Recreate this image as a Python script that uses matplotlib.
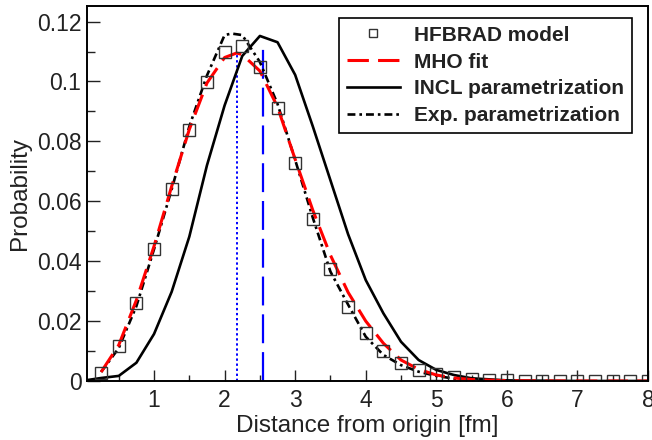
import numpy as np
import matplotlib
matplotlib.use('Agg')
import matplotlib.pyplot as plt
from matplotlib.ticker import MultipleLocator

plt.rcParams['font.family'] = ['Liberation Sans', 'DejaVu Sans']

# --- HFBRAD model points ---
x_hf = [0.25, 0.5, 0.75, 1.0, 1.25, 1.5, 1.75, 2.0, 2.25, 2.5, 2.75, 3.0,
        3.25, 3.5, 3.75, 4.0, 4.25, 4.5, 4.75, 5.0, 5.25, 5.5, 5.75, 6.0,
        6.25, 6.5, 6.75, 7.0, 7.25, 7.5, 7.75, 8.0]
p_hf = [0.0028, 0.0118, 0.0261, 0.0441, 0.0641, 0.0838, 0.0999, 0.1099,
        0.1117, 0.1050, 0.0911, 0.0727, 0.0540, 0.0374, 0.0247, 0.0159,
        0.0100, 0.0059, 0.0037, 0.0022, 0.0014, 0.0008, 0.0004, 0.0002,
        0.0001, 0.0001, 0.0, 0.0, 0.0, 0.0, 0.0, 0.0]

# --- MHO fit ---
x_mho = [0.25, 0.5, 0.75, 1.0, 1.25, 1.5, 1.75, 2.0, 2.17, 2.25, 2.5, 2.75,
         3.0, 3.25, 3.5, 3.75, 4.0, 4.25, 4.5, 4.75, 5.0, 5.25, 5.5, 6.0,
         6.5, 7.0, 8.0]
p_mho = [0.003, 0.012, 0.027, 0.045, 0.065, 0.084, 0.0995, 0.108, 0.1095,
         0.109, 0.1035, 0.0915, 0.074, 0.057, 0.042, 0.0296, 0.0200, 0.0126,
         0.0070, 0.0039, 0.0020, 0.0010, 0.0005, 0.0001, 0.00003, 0.0, 0.0]

# --- INCL parametrization ---
x_incl = [0.05, 0.25, 0.5, 0.75, 1.0, 1.25, 1.5, 1.75, 2.0, 2.25, 2.5, 2.75,
          3.0, 3.25, 3.5, 3.75, 4.0, 4.25, 4.5, 4.75, 5.0, 5.25, 5.5, 6.0,
          6.5, 7.0, 8.0]
p_incl = [0.0003, 0.0010, 0.0017, 0.0061, 0.0157, 0.0298, 0.0482, 0.072,
          0.092, 0.1085, 0.1152, 0.1131, 0.1022, 0.085, 0.067, 0.049, 0.0337,
          0.0226, 0.0131, 0.0070, 0.0037, 0.0020, 0.0009, 0.0002, 0.0001,
          0.0, 0.0]

# --- Exp. parametrization ---
x_exp = [0.25, 0.5, 0.75, 1.0, 1.25, 1.5, 1.75, 2.0, 2.1, 2.25, 2.5, 2.75,
         3.0, 3.25, 3.5, 3.75, 4.0, 4.25, 4.5, 4.75, 5.0, 5.25, 5.5, 6.0]
p_exp = [0.003, 0.011, 0.025, 0.044, 0.064, 0.085, 0.102, 0.1155, 0.116,
         0.1155, 0.1065, 0.0925, 0.0738, 0.0545, 0.0365, 0.0255, 0.0148,
         0.0087, 0.0053, 0.0031, 0.0017, 0.0008, 0.0004, 0.0001]

# --- vertical markers (rms radii) ---
x_rms_mho, top_rms_mho = 2.17, 0.1095
x_rms_hf, top_rms_hf = 2.55, 0.112

fig = plt.figure(figsize=(6.52, 4.40), dpi=100)
ax = fig.add_axes([87 / 652, 1 - 381 / 440, (648 - 87) / 652, (381 - 6) / 440])

ax.plot([x_rms_mho, x_rms_mho], [0, top_rms_mho], color='blue', lw=1.4,
        linestyle=(0, (1.2, 1.4)))
ax.plot([x_rms_hf, x_rms_hf], [0, top_rms_hf], color='blue', lw=1.6,
        linestyle=(0, (13, 4)))

ax.plot(x_incl, p_incl, color='black', lw=1.9, label='INCL parametrization')
ax.plot(x_exp, p_exp, color='black', lw=1.9,
        linestyle=(0, (3, 1.5, 1, 1.5)), label='Exp. parametrization')
ax.plot(x_mho, p_mho, color='red', lw=2.2, linestyle=(0, (7, 3)),
        label='MHO fit')
ax.plot(x_hf, p_hf, linestyle='none', marker='s', markersize=8,
        markerfacecolor='none', markeredgecolor='#333333',
        markeredgewidth=1.0, label='HFBRAD model')

ax.set_xlim(0.05, 8.0)
ax.set_ylim(0, 0.1252)

ax.xaxis.set_major_locator(MultipleLocator(1))
ax.xaxis.set_minor_locator(MultipleLocator(0.5))
ax.yaxis.set_minor_locator(MultipleLocator(0.01))
ax.set_yticks([0, 0.02, 0.04, 0.06, 0.08, 0.1, 0.12])
ax.set_yticklabels(['0', '0.02', '0.04', '0.06', '0.08', '0.1', '0.12'])

ax.tick_params(axis='both', which='both', direction='in', top=False,
               right=False, labelsize=16.5, colors='#222222', width=1.0)
ax.tick_params(axis='x', which='major', length=8, pad=6)
ax.tick_params(axis='x', which='minor', length=4)
ax.tick_params(axis='y', which='major', length=9.5, pad=4)
ax.tick_params(axis='y', which='minor', length=5.5)
for sp in ax.spines.values():
    sp.set_linewidth(1.4)

ax.set_xlabel('Distance from origin [fm]', fontsize=17.5, color='#222222',
              labelpad=2)
ax.set_ylabel('Probability', fontsize=17.5, color='#222222', labelpad=4)

handles, labels = ax.get_legend_handles_labels()
order = [3, 2, 0, 1]
leg = ax.legend([handles[i] for i in order], [labels[i] for i in order],
                loc='upper right', bbox_to_anchor=(631.7 / 652, 1 - 18.3 / 440),
                bbox_transform=fig.transFigure, borderaxespad=0,
                fancybox=False, framealpha=1, edgecolor='black',
                prop={'weight': 'bold', 'size': 15}, handlelength=2.55,
                handletextpad=0.7, labelspacing=0.38, borderpad=0.35,
                markerscale=0.65)
leg.get_frame().set_linewidth(1.2)
for t in leg.get_texts():
    t.set_color('#222222')

fig.savefig('out.png', dpi=100)
